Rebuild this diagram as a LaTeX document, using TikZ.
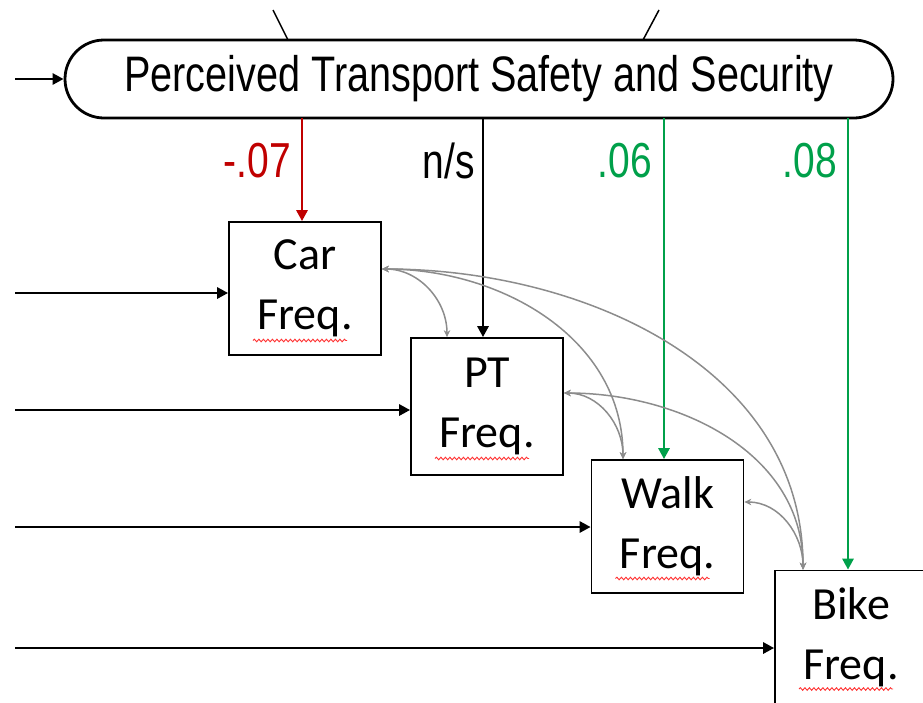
\documentclass[tikz,border=0pt]{standalone}
\usepackage{fontspec}
\usepackage{graphicx}
\setmainfont{Liberation Sans}
\newfontfamily\boxfont{Carlito}
\usetikzlibrary{arrows.meta,decorations.pathmorphing,calc}
\definecolor{myred}{HTML}{C00000}
\definecolor{mygreen}{HTML}{00A04A}
\definecolor{corrgray}{HTML}{8C8C8C}
\tikzset{
  freqbox/.style={draw, line width=1.7pt, minimum width=152pt, minimum height=133pt, inner sep=0pt, align=center, font=\boxfont\fontsize{46}{60}\selectfont},
  mainarrow/.style={line width=2.8pt, -{Triangle[length=11pt,width=11pt]}},
  corr/.style={draw=corrgray, line width=1.5pt, {Stealth[length=7pt,width=6.5pt]}-{Stealth[length=7pt,width=6.5pt]}},
  squig/.style={draw=red!80!white, line width=0.9pt, decorate, decoration={snake, segment length=4.5pt, amplitude=1.3pt}},
  lab/.style={anchor=east, inner sep=0pt, font=\fontsize{39}{39}\selectfont},
}
\newcommand{\vst}[1]{\scalebox{1}[1.26]{#1}}
\begin{document}
\begin{tikzpicture}[x=1pt,y=-1pt]
\useasboundingbox (0,0) rectangle (923,702);
\clip (0,0) rectangle (923,702);

% stadium
\node[draw, line width=2.8pt, rounded corners=39pt, minimum width=828pt, minimum height=78pt, inner sep=0pt] (stad) at (479,79) {\fontsize{39.6}{40}\selectfont\vst{Perceived Transport Safety and Security}};

% top lines
\coordinate (t1) at (273,10);
\coordinate (t2) at (659,10);
\draw[line width=1.5pt] (t1) -- (288,40);
\draw[line width=1.5pt] (t2) -- (643,40);

% input arrow to stadium
\coordinate (s0) at (15,79);
\draw[mainarrow] (s0) -- (stad.west);

% boxes
\node[freqbox] (car)  at (305,288.5) {Car\\Freq.};
\node[freqbox, minimum height=137pt] (pt) at (487,406.5) {PT\\Freq.};
\node[freqbox] (walk) at (667.5,526.5) {Walk\\Freq.};
\node[freqbox] (bike) at (851,637) {Bike\\Freq.};

% squiggles
\foreach \b in {car,pt,walk,bike}{
  \draw[squig] ($(\b.center)+(-52,52)$) -- ($(\b.center)+(42,52)$);
}

% horizontal input arrows
\coordinate (h1) at (15,293);
\coordinate (h2) at (15,410);
\coordinate (h3) at (15,527);
\coordinate (h4) at (15,648);
\draw[mainarrow] (h1) -- (h1 -| car.west);
\draw[mainarrow] (h2) -- (h2 -| pt.west);
\draw[mainarrow] (h3) -- (h3 -| walk.west);
\draw[mainarrow] (h4) -- (h4 -| bike.west);

% vertical arrows from stadium
\coordinate (v1) at (302,118);
\coordinate (v2) at (483,118);
\coordinate (v3) at (664,118);
\coordinate (v4) at (848,118);
\draw[mainarrow, myred] (v1) -- (v1 |- car.north);
\draw[mainarrow] (v2) -- (v2 |- pt.north);
\draw[mainarrow, mygreen] (v3) -- (v3 |- walk.north);
\draw[mainarrow, mygreen] (v4) -- (v4 |- bike.north);

% labels
\node[lab, text=myred] (l1) at (291,161) {\vst{-.07}};
\node[lab] (l2) at (475,161) {\vst{n/s}};
\node[lab, text=mygreen] (l3) at (652,161) {\vst{.06}};
\node[lab, text=mygreen] (l4) at (837,161) {\vst{.08}};

% correlations
\coordinate (carR) at ([yshift=19.5pt]car.east);
\coordinate (ptR) at ([yshift=13.5pt]pt.east);
\coordinate (walkR) at ([yshift=24.5pt]walk.east);
\coordinate (ptT) at ([xshift=-40pt]pt.north);
\coordinate (walkT) at ([xshift=-44.5pt]walk.north);
\coordinate (bikeT) at ([xshift=-48pt]bike.north);
\draw[corr] (carR) to[out=0,in=90] (ptT);
\draw[corr] (carR) to[out=0,in=90] (walkT);
\draw[corr] (carR) to[out=0,in=90] (bikeT);
\draw[corr] (ptR) to[out=0,in=90] (walkT);
\draw[corr] (ptR) to[out=0,in=90] (bikeT);
\draw[corr] (walkR) to[out=0,in=90] (bikeT);
\end{tikzpicture}
\end{document}
